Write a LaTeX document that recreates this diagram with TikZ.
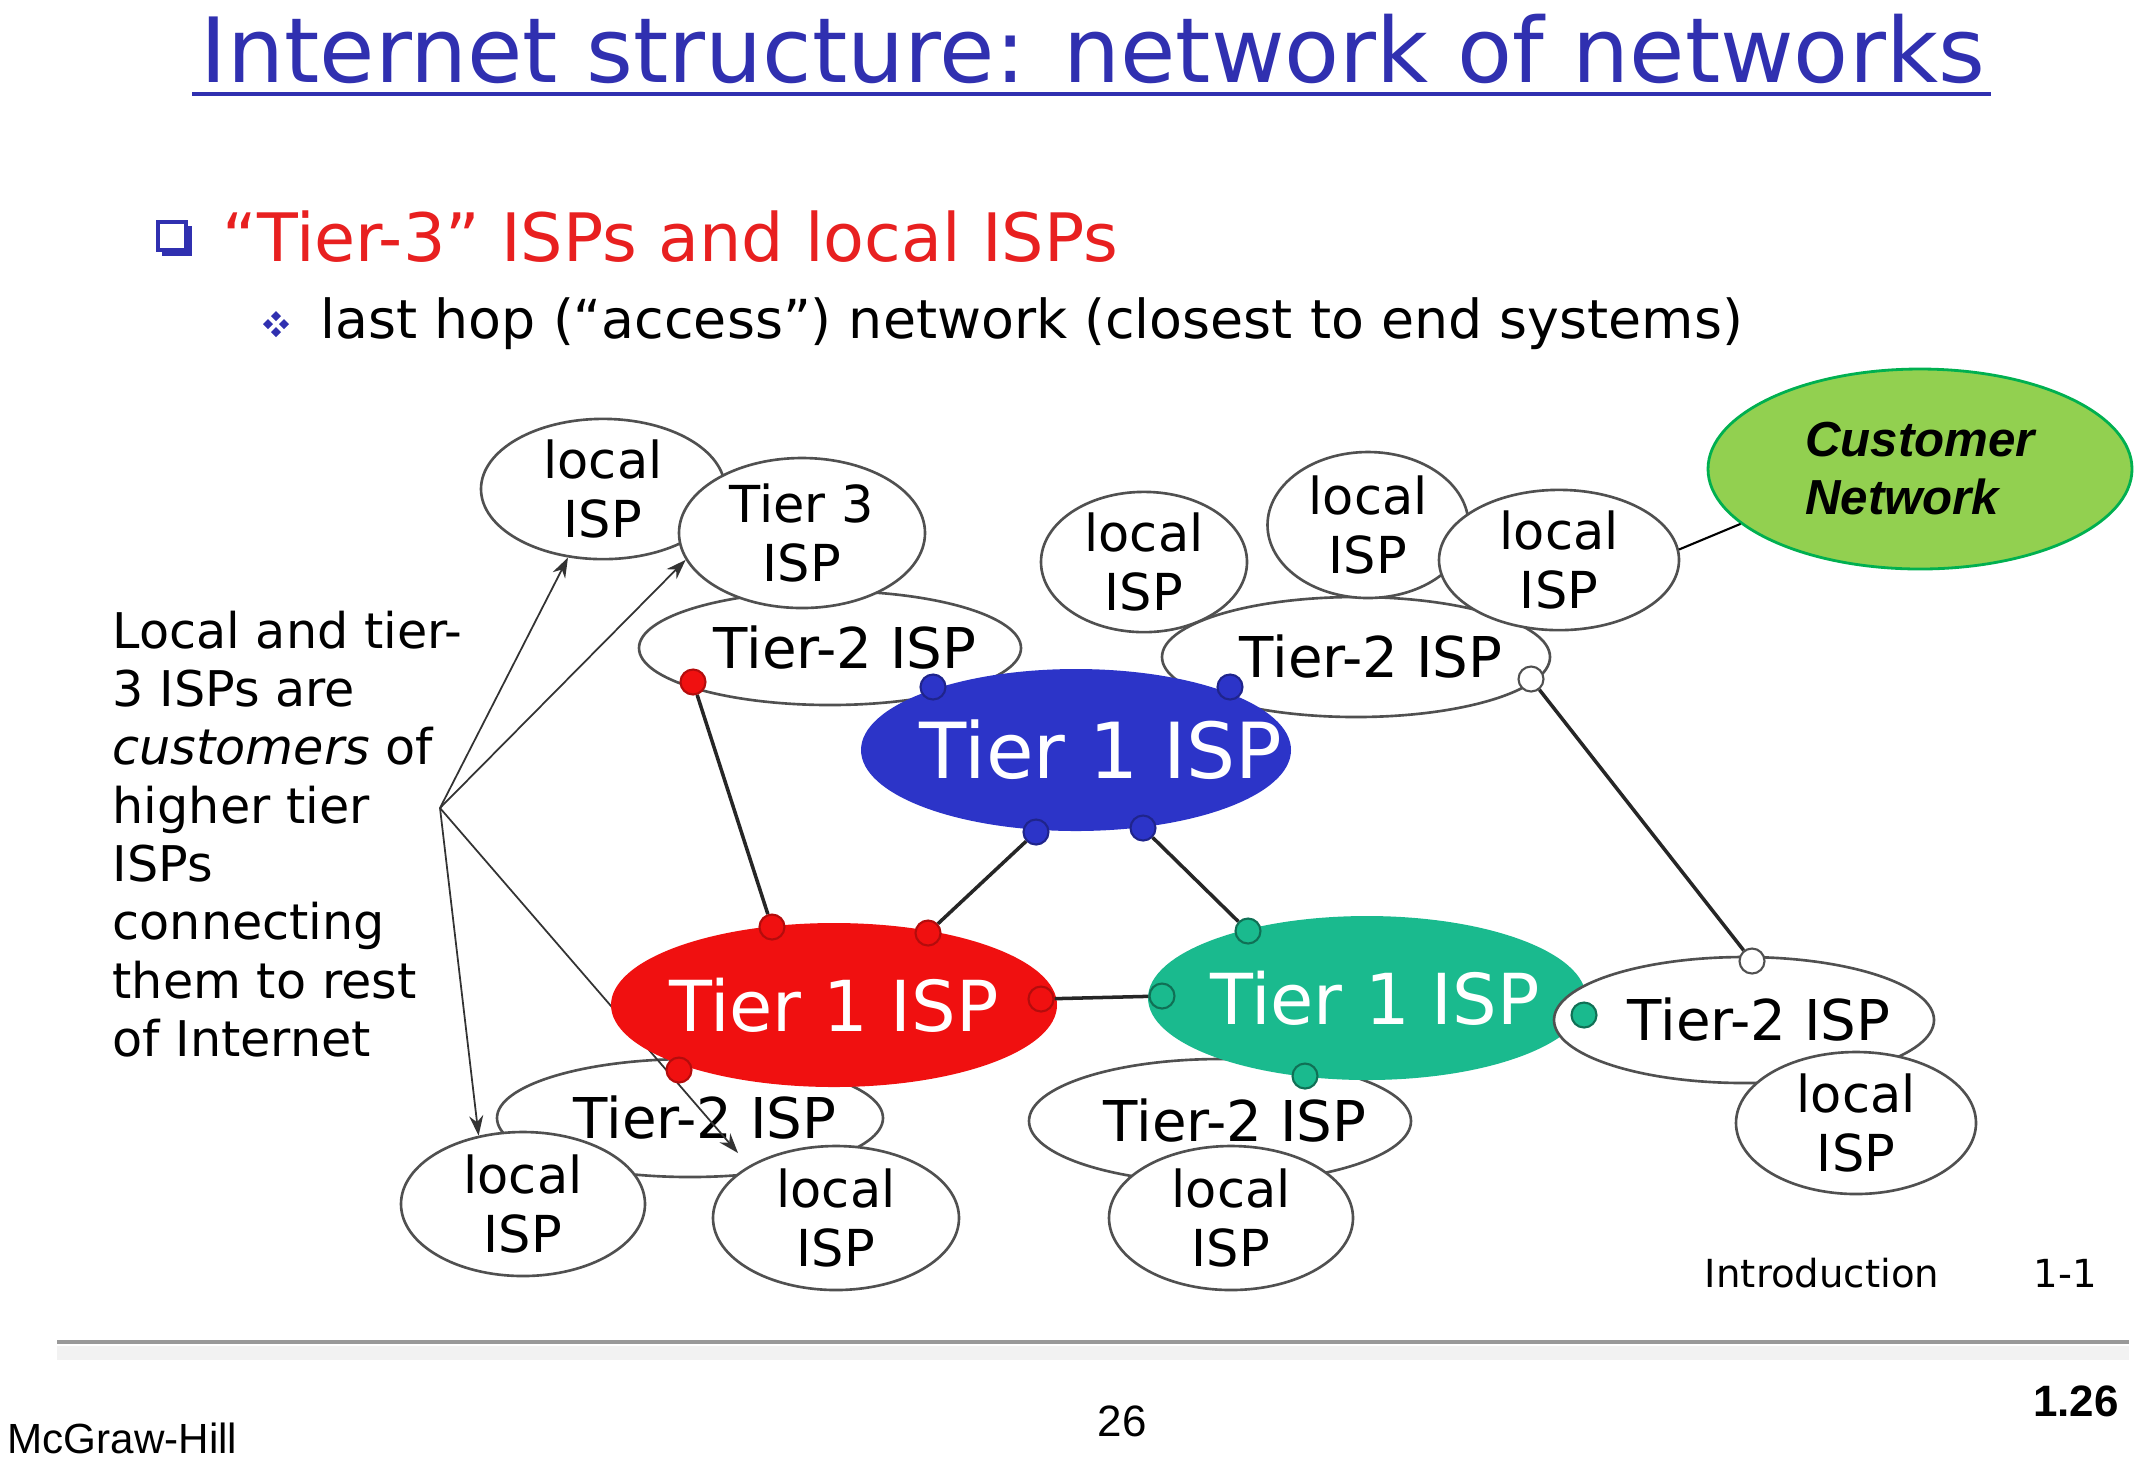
\documentclass[tikz,border=0pt]{standalone}
\usepackage{fontspec}
\setmainfont{DejaVu Sans}
\newfontfamily\arialfont{Liberation Sans}
\usetikzlibrary{shapes.geometric,arrows.meta}
\definecolor{titleblue}{RGB}{48,48,176}
\definecolor{bulletred}{RGB}{232,32,32}
\definecolor{tieroneblue}{RGB}{44,52,200}
\definecolor{tieronered}{RGB}{240,16,16}
\definecolor{tieronegreen}{RGB}{26,186,142}
\definecolor{custfill}{RGB}{146,208,80}
\definecolor{custdraw}{RGB}{0,176,80}
\definecolor{ispline}{RGB}{80,80,80}
\newcommand{\shiftedtext}[2][0mm]{\makebox[0pt]{\hspace*{#1}#2}}
\begin{document}
\begin{tikzpicture}[x=0.1mm,y=-0.1mm,
  isp/.style={ellipse,draw=ispline,fill=white,line width=0.75pt,inner sep=0pt,align=center,
     font=\fontsize{14.5}{17}\selectfont},
  tiertwo/.style={isp,font=\fontsize{16}{19}\selectfont},
  tierone/.style={ellipse,inner sep=0pt,text=white,font=\fontsize{20}{24}\selectfont},
  dotnode/.style={circle,inner sep=0pt,minimum size=2.5mm,line width=0.6pt},
  rdot/.style={dotnode,fill=tieronered,draw=tieronered!75!black},
  bdot/.style={dotnode,fill=tieroneblue,draw=tieroneblue!70!black},
  gdot/.style={dotnode,fill=tieronegreen,draw=tieronegreen!60!black},
  wdot/.style={dotnode,fill=white,draw=ispline},
  link/.style={draw=black!85,line width=1pt},
  pointer/.style={draw=black!80,line width=0.5pt,-{Stealth[length=2mm,width=1.4mm]}},
]
\useasboundingbox[fill=white] (0,0) rectangle (2143,1458);

% title and bullets
\node[anchor=base,text=titleblue,font=\fontsize{25.6}{30}\selectfont,inner sep=0pt] (title) at (1093,82) {Internet structure: network of networks};
\draw[titleblue,line width=1.3pt] (192,94) -- (1991,94);

\draw[titleblue,line width=0.45mm] (158,222) rectangle (186,250);
\fill[titleblue] (186,226) rectangle (192,256);
\fill[titleblue] (162,250) rectangle (192,256);
\node[anchor=west,text=bulletred,font=\fontsize{19}{23}\selectfont,inner sep=0pt] (bullet) at (222,237) {“Tier-3” ISPs and local ISPs};

\fill[titleblue] (263,324) -- (268,319) -- (273,324) -- (268,329) -- cycle;
\fill[titleblue] (279,324) -- (284,319) -- (289,324) -- (284,329) -- cycle;
\fill[titleblue] (271,316) -- (276,311) -- (281,316) -- (276,321) -- cycle;
\fill[titleblue] (271,332) -- (276,327) -- (281,332) -- (276,337) -- cycle;
\node[anchor=west,font=\fontsize{15.3}{18}\selectfont,inner sep=0pt] (sub) at (320,324) {last hop (“access”) network (closest to end systems)};

% left explanation
\node[anchor=north west,align=left,inner sep=0pt,font=\fontsize{14}{16.6}\selectfont] (expl) at (112,610)
 {Local and tier-\\3 ISPs are\\\textit{customers} of\\higher tier\\ISPs\\connecting\\them to rest\\of Internet};
\coordinate (src) at (440,808);

% top-left group
\node[tiertwo,minimum width=38.2mm,minimum height=11.4mm] (t2a) at (830,648) {\shiftedtext[3mm]{Tier-2 ISP}};
\node[isp,minimum width=24.4mm,minimum height=13.6mm] (lisp1) at (603,489) {local\\ISP};
\node[isp,minimum width=24.6mm,minimum height=15mm] (t3) at (802,533) {Tier 3\\ISP};

% top-right group
\node[tiertwo,minimum width=38.8mm,minimum height=12mm] (t2b) at (1356,657) {\shiftedtext[3mm]{Tier-2 ISP}};
\node[isp,minimum width=20.1mm,minimum height=14.6mm] (lisp3) at (1368,525) {local\\ISP};
\node[isp,minimum width=20.6mm,minimum height=14mm] (lisp2) at (1144,562) {local\\ISP};
\node[isp,minimum width=24mm,minimum height=13.6mm] (lisp4) at (1559,560) {local\\ISP};

% customer network
\node[ellipse,draw=custdraw,fill=custfill,line width=0.8pt,minimum width=42.4mm,minimum height=20mm,inner sep=0pt,align=left,font=\arialfont\bfseries\itshape\fontsize{14}{16.5}\selectfont] (cust) at (1920,469) {Customer\\Network};
\draw[line width=0.6pt] (lisp4.5) -- (cust.197);

% bottom groups
\node[tiertwo,minimum width=38.6mm,minimum height=11.8mm] (t2e) at (690,1118) {\shiftedtext[3mm]{Tier-2 ISP}};
\node[isp,minimum width=24.4mm,minimum height=14.4mm] (lisp7) at (523,1204) {local\\ISP};
\node[isp,minimum width=24.6mm,minimum height=14.4mm] (lisp8) at (836,1218) {local\\ISP};
\node[tiertwo,minimum width=38.2mm,minimum height=12.4mm] (t2d) at (1220,1121) {\shiftedtext[3mm]{Tier-2 ISP}};
\node[isp,minimum width=24.4mm,minimum height=14.4mm] (lisp6) at (1231,1218) {local\\ISP};

% pointers from explanation
\coordinate (tip4) at (738,1153);
\draw[pointer] (src) -- (lisp1);
\draw[pointer] (src) -- (t3.193);
\draw[pointer] (src) -- (lisp7.123);
\draw[pointer] (src) -- (tip4);

% tier 1 ISPs
\node[tierone,fill=tieroneblue,minimum width=43mm,minimum height=16.2mm,font=\fontsize{22}{26}\selectfont] (blue) at (1076,750) {\shiftedtext[5mm]{Tier 1 ISP}};
\node[tierone,fill=tieronered,minimum width=44.6mm,minimum height=16.4mm] (red) at (834,1005) {\shiftedtext{Tier 1 ISP}};
\node[tierone,fill=tieronegreen,minimum width=43.8mm,minimum height=16.4mm] (green) at (1367,998) {\shiftedtext[1.6mm]{Tier 1 ISP}};

% right group
\node[tiertwo,minimum width=38mm,minimum height=12.6mm] (t2c) at (1744,1020) {\shiftedtext[3mm]{Tier-2 ISP}};
\node[isp,minimum width=24mm,minimum height=14.2mm] (lisp5) at (1856,1123) {local\\ISP};

% dots
\node[rdot] (r1) at (693,682) {};
\node[rdot] (r2) at (772,927) {};
\node[rdot] (r3) at (928,933) {};
\node[rdot] (r4) at (1041,999) {};
\node[rdot] (r5) at (679,1070) {};
\node[bdot] (b1) at (933,687) {};
\node[bdot] (b2) at (1230,687) {};
\node[bdot] (b3) at (1036,832) {};
\node[bdot] (b4) at (1143,828) {};
\node[gdot] (g1) at (1248,931) {};
\node[gdot] (g2) at (1162,996) {};
\node[gdot] (g3) at (1305,1076) {};
\node[gdot] (g4) at (1584,1015) {};
\node[wdot] (w1) at (1531,679) {};
\node[wdot] (w2) at (1752,961) {};

% links
\draw[link] (r1) -- (r2);
\draw[link] (b3) -- (r3);
\draw[link] (b4) -- (g1);
\draw[link] (r4) -- (g2);
\draw[link] (w1) -- (w2);

% footer
\node[font=\fontsize{11}{13}\selectfont,inner sep=0pt] (intro) at (1822,1273) {Introduction};
\node[font=\fontsize{11}{13}\selectfont,inner sep=0pt] (pagenum) at (2065,1273) {1-1};
\fill[black!5] (57,1346) rectangle (2129,1360);
\draw[black!40,line width=1.2pt] (57,1342) -- (2129,1342);
\node[font=\arialfont\fontsize{12.5}{15}\selectfont,inner sep=0pt] (slide) at (1122,1421) {26};
\node[font=\arialfont\bfseries\fontsize{12.5}{15}\selectfont,inner sep=0pt] (chap) at (2076,1401) {1.26};
\node[anchor=west,font=\arialfont\fontsize{12}{14}\selectfont,inner sep=0pt] (pub) at (7,1438) {McGraw-Hill};
\end{tikzpicture}
\end{document}
